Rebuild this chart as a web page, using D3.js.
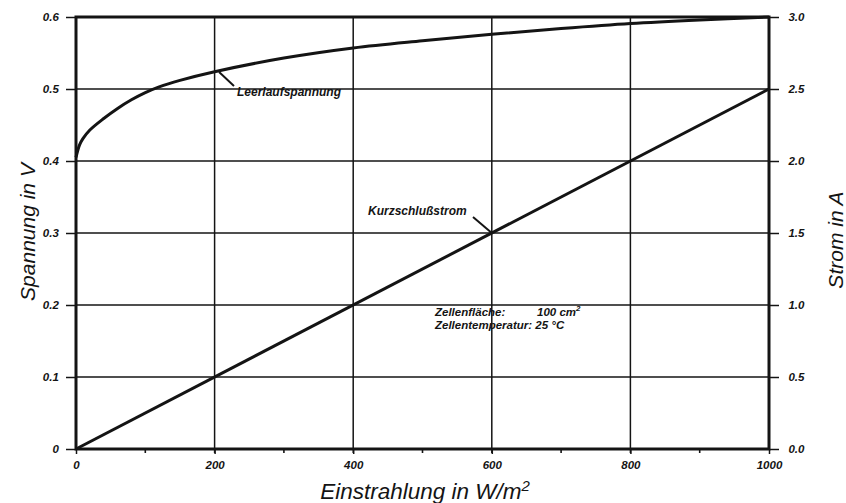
<!DOCTYPE html>
<html>
<head>
<meta charset="utf-8">
<script src="https://cdn.jsdelivr.net/npm/d3@7"></script>
<style>
  body { margin: 0; background: #fff; }
  svg text { font-family: "Liberation Sans", Arial, sans-serif; fill: #141414; }
</style>
</head>
<body>
<div id="chart"></div>
<script>
// Einstrahlung (W/m2) und Leerlaufspannung (V)
var irradiance = [0, 5, 10, 20, 40, 60, 80, 100, 120, 150, 200, 300, 400, 500, 600, 700, 800, 900, 1000];
var openVoltage = [0.405, 0.422, 0.431, 0.443, 0.459, 0.473, 0.485, 0.495, 0.503, 0.512, 0.524, 0.543, 0.557, 0.567, 0.576, 0.584, 0.591, 0.596, 0.6];
// Kurzschlussstrom (A)
var currentIrr = [0, 1000];
var shortCurrent = [0, 2.5];

var xTicks = [0, 200, 400, 600, 800, 1000];
var xMinor = [100, 300, 500, 700, 900];
var vTicks = [0, 0.1, 0.2, 0.3, 0.4, 0.5, 0.6];
var vLabels = ["0", "0.1", "0.2", "0.3", "0.4", "0.5", "0.6"];
var aTicks = [0, 0.5, 1.0, 1.5, 2.0, 2.5, 3.0];

var W = 846, H = 503;
var ink = "#141414";

var svg = d3.select("#chart").append("svg")
  .attr("width", W).attr("height", H);

var x = d3.scaleLinear().domain([0, 1000]).range([76, 769]);
var yV = d3.scaleLinear().domain([0, 0.6]).range([449, 17]);
var yA = d3.scaleLinear().domain([0, 3]).range([449, 17]);

// Gitter
svg.append("g").selectAll("line.h")
  .data(vTicks.slice(1, -1)).enter().append("line")
  .attr("x1", x(0)).attr("x2", x(1000))
  .attr("y1", d => yV(d)).attr("y2", d => yV(d))
  .attr("stroke", ink).attr("stroke-width", 1.5);
svg.append("g").selectAll("line.v")
  .data(xTicks.slice(1, -1)).enter().append("line")
  .attr("x1", d => x(d)).attr("x2", d => x(d))
  .attr("y1", yV(0.6)).attr("y2", yV(0) + 4)
  .attr("stroke", ink).attr("stroke-width", 1.5);

// Achsen
var leftAxis = d3.axisLeft(yV).tickValues(vTicks)
  .tickFormat((d, i) => vLabels[i]).tickSize(10).tickPadding(6);
var gl = svg.append("g").attr("transform", "translate(" + x(0) + ",0)").call(leftAxis);

var rightAxis = d3.axisRight(yA).tickValues(aTicks)
  .tickFormat(d3.format(".1f")).tickSize(10).tickPadding(6);
var gr = svg.append("g").attr("transform", "translate(" + x(1000) + ",0)").call(rightAxis);

var bottomAxis = d3.axisBottom(x).tickValues(xTicks)
  .tickFormat(d3.format("d")).tickSize(5).tickPadding(7);
var gb = svg.append("g").attr("transform", "translate(0," + yV(0) + ")").call(bottomAxis);

svg.append("g").selectAll("line")
  .data(xMinor).enter().append("line")
  .attr("x1", d => x(d)).attr("x2", d => x(d))
  .attr("y1", yV(0)).attr("y2", yV(0) + 4)
  .attr("stroke", ink).attr("stroke-width", 1.6);

[gl, gr, gb].forEach(function(g) {
  g.select(".domain").remove();
  g.selectAll(".tick line").attr("stroke", ink).attr("stroke-width", 1.5);
  g.selectAll(".tick text")
    .attr("font-size", 11.5).attr("font-style", "italic").attr("font-weight", "bold")
    .style("font-family", "'Liberation Sans', Arial, sans-serif").attr("fill", ink);
});
gl.selectAll(".tick text").attr("dx", "-0.1em");
gr.selectAll(".tick text").attr("dx", "0.3em");

// Rahmen
svg.append("rect")
  .attr("x", x(0)).attr("y", yV(0.6))
  .attr("width", x(1000) - x(0)).attr("height", yV(0) - yV(0.6))
  .attr("fill", "none").attr("stroke", ink).attr("stroke-width", 3);

// Kurven
var lineV = d3.line().curve(d3.curveCatmullRom.alpha(0.5))
  .x((d, i) => x(irradiance[i])).y(d => yV(d));
svg.append("path").datum(openVoltage)
  .attr("d", lineV).attr("fill", "none")
  .attr("stroke", ink).attr("stroke-width", 3);

var lineA = d3.line().x((d, i) => x(currentIrr[i])).y(d => yA(d));
svg.append("path").datum(shortCurrent)
  .attr("d", lineA).attr("fill", "none")
  .attr("stroke", ink).attr("stroke-width", 3);

// Beschriftungen
function label(txt, px, py, size) {
  return svg.append("text").attr("x", px).attr("y", py)
    .attr("font-size", size).attr("font-style", "italic").attr("font-weight", "bold")
    .text(txt);
}

var vAt205 = d3.interpolateNumber(openVoltage[10], openVoltage[11])(0.05);
svg.append("line")
  .attr("x1", x(205) + 1).attr("y1", yV(vAt205) + 1)
  .attr("x2", 234).attr("y2", 86)
  .attr("stroke", ink).attr("stroke-width", 2);
label("Leerlaufspannung", 237, 96, 12);

svg.append("line")
  .attr("x1", 473).attr("y1", 217)
  .attr("x2", x(600)).attr("y2", yA(1.5))
  .attr("stroke", ink).attr("stroke-width", 2);
label("Kurzschlußstrom", 368, 215, 12);

label("Zellenfläche:", 435, 316, 11.5);
var t1 = label("100 cm", 537, 316, 11.5);
t1.append("tspan").attr("font-size", 8).attr("dy", -5).text("2");
label("Zellentemperatur: 25 °C", 435, 329, 11.5);

// Achsentitel
svg.append("text")
  .attr("transform", "translate(35,232) rotate(-90)")
  .attr("text-anchor", "middle").attr("font-size", 21).attr("font-style", "italic")
  .text("Spannung in V");
svg.append("text")
  .attr("transform", "translate(843,240) rotate(-90)")
  .attr("text-anchor", "middle").attr("font-size", 21).attr("font-style", "italic")
  .text("Strom in A");
var xt = svg.append("text")
  .attr("x", 425).attr("y", 499)
  .attr("text-anchor", "middle").attr("font-size", 22.5).attr("font-style", "italic")
  .text("Einstrahlung in W/m");
xt.append("tspan").attr("font-size", 15).attr("dy", -8).text("2");
</script>
</body>
</html>
